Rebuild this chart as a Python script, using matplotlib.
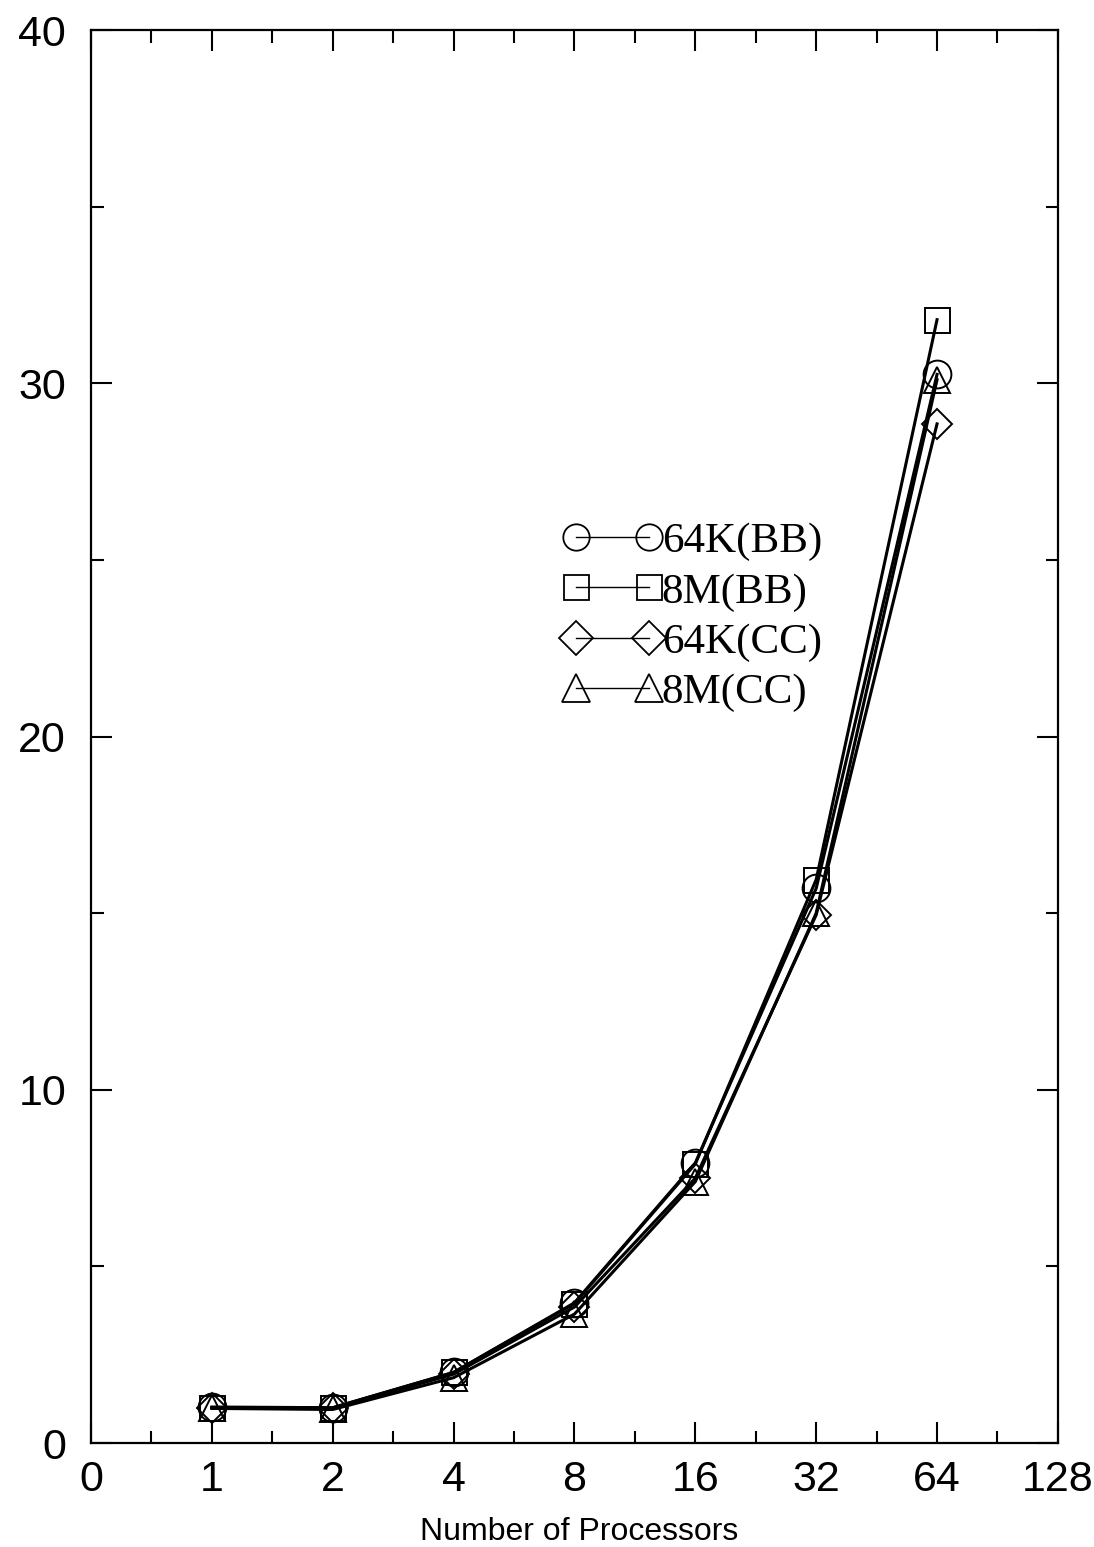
import numpy as np
import matplotlib
matplotlib.use("Agg")
import matplotlib.pyplot as plt
from matplotlib.ticker import MultipleLocator, FixedLocator

# Processor counts and speedup for each configuration
processors = [1, 2, 4, 8, 16, 32, 64]
tick_labels = ["0", "1", "2", "4", "8", "16", "32", "64", "128"]
speedup_64k_bb = [1.02, 1.0, 2.0, 3.97, 7.93, 15.7, 30.25]
speedup_8m_bb = [1.0, 1.0, 2.0, 3.95, 7.9, 15.95, 31.8]
speedup_64k_cc = [1.0, 0.98, 1.95, 3.85, 7.5, 14.95, 28.85]
speedup_8m_cc = [0.98, 0.95, 1.85, 3.65, 7.4, 15.0, 30.1]
series_names = ["64K(BB)", "8M(BB)", "64K(CC)", "8M(CC)"]

fig = plt.figure(figsize=(10.94, 15.47), dpi=100)
ax = fig.add_axes([0.0832, 0.0672, 0.8838, 0.9134])

# Position processors on a base-2 scale, with "0" one step left of 1
xpos = np.log2(processors) + 1

series = [speedup_64k_bb, speedup_8m_bb, speedup_64k_cc, speedup_8m_cc]
markers = ["o", "s", "D", "^"]
sizes = [20, 18, 15, 19]
for vals, mk, ms, name in zip(series, markers, sizes, series_names):
    ax.plot(xpos, vals, color="black", lw=2.2, marker=mk, ms=ms,
            mfc="none", mec="black", mew=1.4, label=name)

ax.set_xlim(0, 8)
ax.set_ylim(0, 40)
ax.xaxis.set_major_locator(FixedLocator(range(9)))
ax.set_xticklabels(tick_labels)
ax.xaxis.set_minor_locator(MultipleLocator(0.5))
ax.yaxis.set_major_locator(MultipleLocator(10))
ax.yaxis.set_minor_locator(MultipleLocator(5))

for s in ax.spines.values():
    s.set_linewidth(1.6)

ax.tick_params(which="both", direction="in", top=True, right=True, width=1.5)
ax.tick_params(which="major", length=15, labelsize=31, pad=12)
ax.tick_params(which="minor", length=9)
ax.tick_params(axis="y", which="major", pad=18)
for lab in ax.get_xticklabels() + ax.get_yticklabels():
    lab.set_family("Liberation Sans")

ax.set_xlabel("Number of Processors", fontsize=23, family="Liberation Sans",
              labelpad=10)
ax.xaxis.set_label_coords(0.505, -0.052)

leg = ax.legend(loc="upper left", bbox_to_anchor=(0.47, 0.664), frameon=False,
                numpoints=2, handlelength=2.3, handletextpad=0.0,
                labelspacing=0.26, borderaxespad=0,
                prop={"family": "Liberation Serif", "size": 31})
legend_sizes = [19, 18, 17, 20]
for h, ms in zip(leg.legend_handles, legend_sizes):
    h.set_linewidth(1.0)
    h.set_markersize(ms)
    h.set_markeredgewidth(1.3)

fig.savefig("out.png", dpi=100)
